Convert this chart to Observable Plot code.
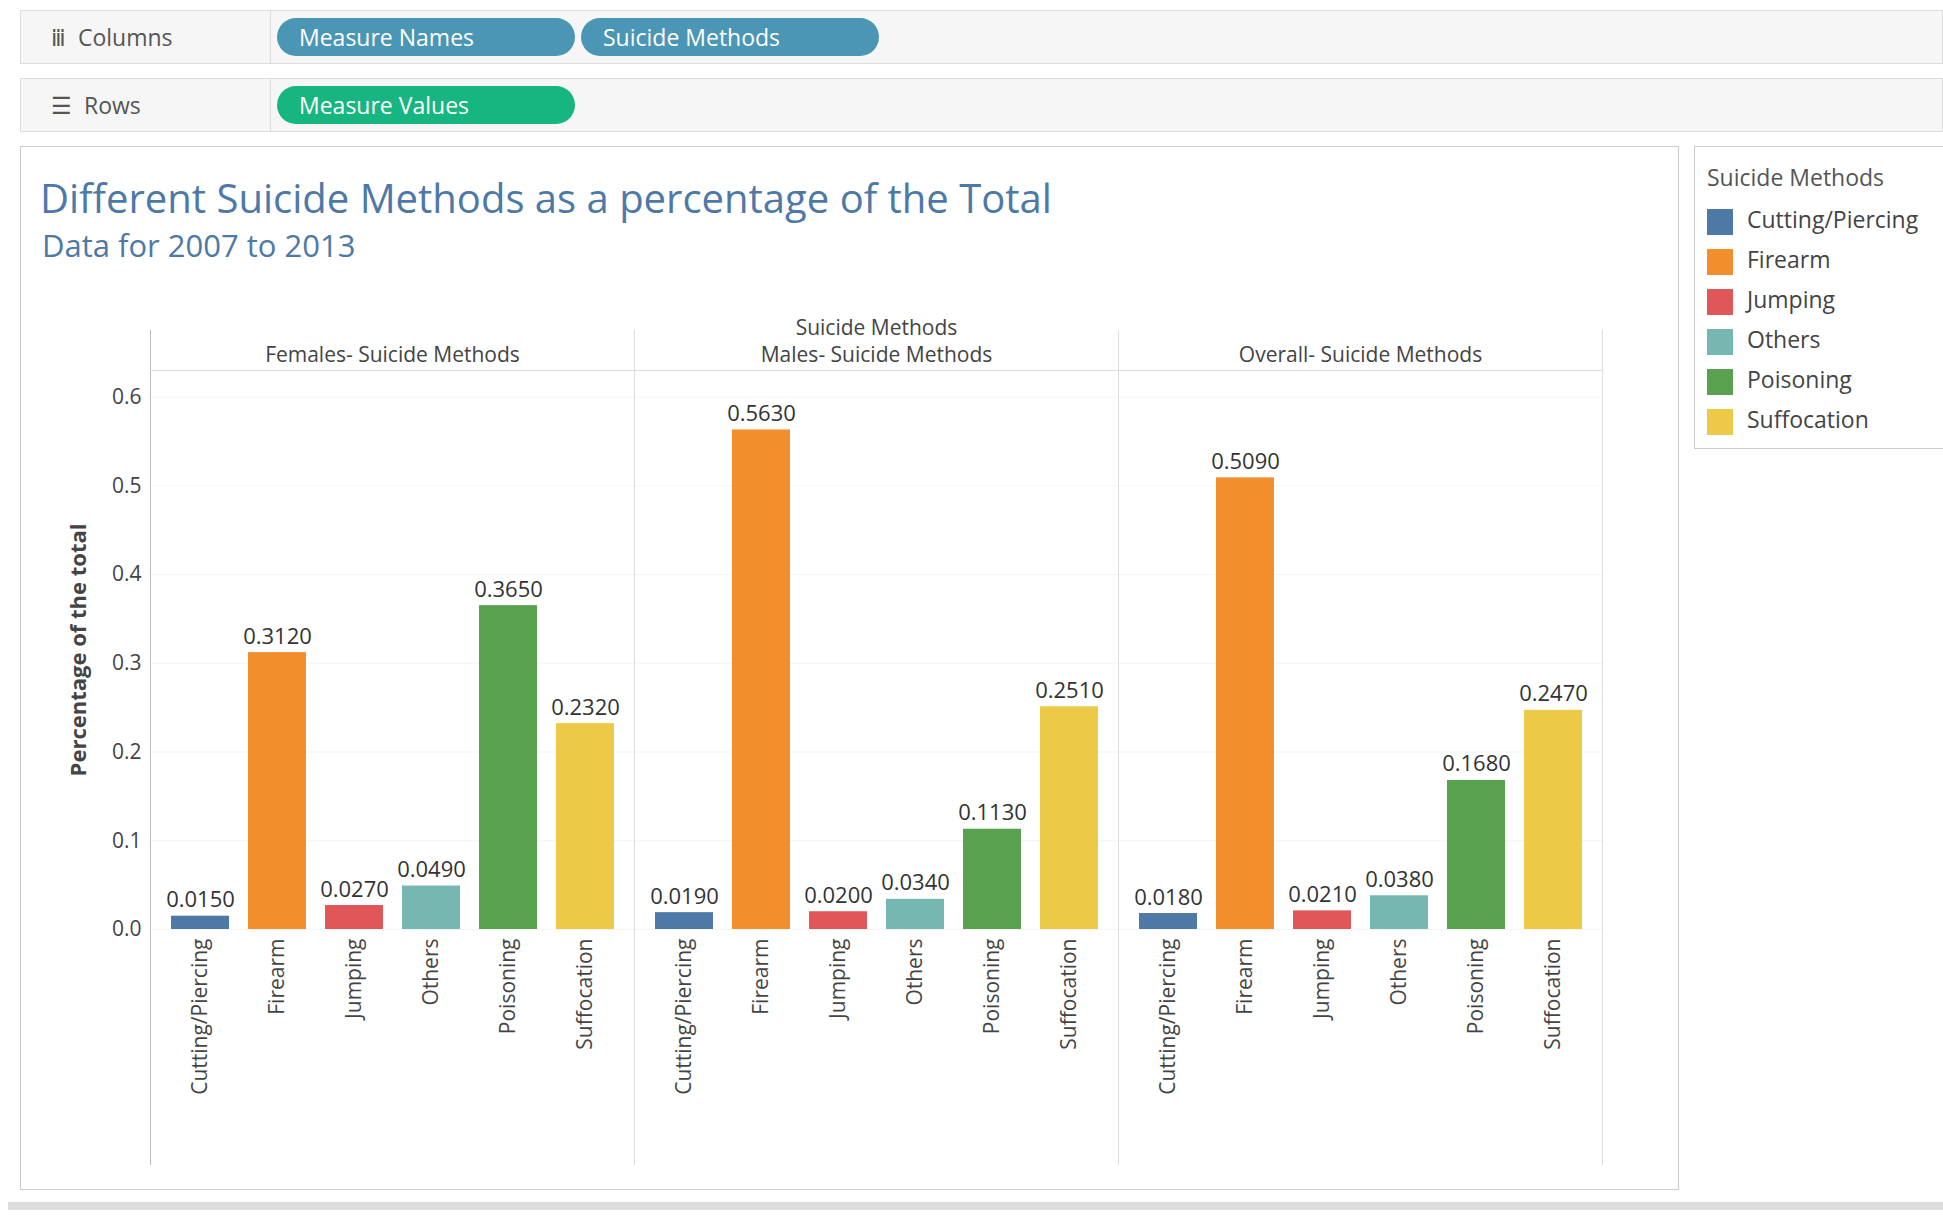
<!DOCTYPE html>
<html><head><meta charset="utf-8">
<script src="https://cdn.jsdelivr.net/npm/d3@7"></script>
<script src="https://cdn.jsdelivr.net/npm/@observablehq/plot@0.6"></script>
<style>
body{margin:0;width:1943px;height:1216px;background:#fff;font-family:"Open Sans",sans-serif;position:relative;overflow:hidden;color:#333}
.shelf{position:absolute;left:20px;right:0;height:52px;background:#f6f6f6;border:1px solid #ddd}
.shelf .lab{position:absolute;left:0;top:0;width:250px;height:52px;line-height:52px;padding-left:30px;font-size:23px;color:#555;border-right:1px solid #ddd;box-sizing:border-box}
.pill{position:absolute;top:7px;height:38px;line-height:38px;border-radius:19px;color:#fff;font-size:23px;padding-left:22px;box-sizing:border-box}
#panel{position:absolute;left:20px;top:146px;width:1659px;height:1044px;border:1px solid #ccc;box-sizing:border-box}
#title{position:absolute;left:40px;top:170px;font-size:40px;color:#4e79a7}
#sub{position:absolute;left:42px;top:224px;font-size:31px;color:#4e79a7}
#chart{position:absolute;left:20px;top:290px}
#legend{position:absolute;left:1694px;top:146px;width:260px;height:303px;border:1px solid #ccc;box-sizing:border-box}
#legend .t{font-size:23px;color:#555;padding:14px 0 0 12px;height:52px;box-sizing:border-box}
#legend .r{height:40px;line-height:40px;font-size:23px;padding-left:12px;color:#444}
#legend .s{display:inline-block;width:26px;height:26px;vertical-align:middle;margin-right:14px}
#foot{position:absolute;left:8px;right:0;top:1202px;height:8px;background:#ddd}
</style></head><body>
<div class="shelf" style="top:10px"><div class="lab">ⅲ&nbsp; Columns</div>
<div class="pill" style="left:256px;width:298px;background:#4b96b5">Measure Names</div>
<div class="pill" style="left:560px;width:298px;background:#4b96b5">Suicide Methods</div></div>
<div class="shelf" style="top:78px"><div class="lab">☰&nbsp; Rows</div>
<div class="pill" style="left:256px;width:298px;background:#17b57f">Measure Values</div></div>
<div id="panel"></div>
<div id="title">Different Suicide Methods as a percentage of the Total</div>
<div id="sub">Data for 2007 to 2013</div>
<div id="chart"></div>
<div id="legend"><div class="t">Suicide Methods</div></div>
<div id="foot"></div>
<script>
const methods = ["Cutting/Piercing","Firearm","Jumping","Others","Poisoning","Suffocation"];
const groups = ["Females- Suicide Methods","Males- Suicide Methods","Overall- Suicide Methods"];
const females = [0.015,0.312,0.027,0.049,0.365,0.232];
const males = [0.019,0.563,0.020,0.034,0.113,0.251];
const overall = [0.018,0.509,0.021,0.038,0.168,0.247];
const colors = ["#4e79a7","#f28e2b","#e15759","#76b7b2","#59a14f","#edc948"];

const series = [females, males, overall];
const data = [];
groups.forEach((g, i) => methods.forEach((m, j) => data.push({group: g, method: m, value: series[i][j]})));

const chart = Plot.plot({
  width: 1640, height: 884,
  marginLeft: 130, marginRight: 58, marginTop: 80, marginBottom: 245,
  style: {fontFamily: "Open Sans", fontSize: "21px", color: "#444", overflow: "visible"},
  fx: {domain: groups, padding: 0, label: "Suicide Methods", axis: "top", tickSize: 0, labelOffset: 50},
  x: {domain: methods, padding: 0.25, tickRotate: -90, tickSize: 0, label: null},
  y: {domain: [0, 0.63], ticks: [0,0.1,0.2,0.3,0.4,0.5,0.6], tickFormat: ".1f", grid: true, tickSize: 0, label: "Percentage of the total", labelAnchor: "center", labelArrow: "none", labelOffset: 80},
  color: {domain: methods, range: colors},
  marks: [
    Plot.frame({anchor: "left", stroke: "#bbb", insetTop: -40, insetBottom: -235}),
    Plot.frame({anchor: "right", stroke: "#ddd", insetTop: -40, insetBottom: -235}),
    Plot.frame({anchor: "top", stroke: "#ddd"}),
    Plot.barY(data, {fx: "group", x: "method", y: "value", fill: "method"}),
    Plot.text(data, {fx: "group", x: "method", y: "value", text: d => d.value.toFixed(4), dy: -16, fill: "#333", fontSize: 22})
  ]
});
chart.querySelectorAll("g[aria-label='y-grid'] line").forEach(l => l.setAttribute("stroke-opacity", 0.06));
chart.querySelectorAll("g[aria-label='y-axis label'] text").forEach(t => { t.style.fontWeight = "bold"; t.style.fontSize = "22px"; });
d3.select("#chart").append(() => chart);

const lg = d3.select("#legend");
methods.forEach((m, i) => {
  const r = lg.append("div").attr("class", "r");
  r.append("span").attr("class", "s").style("background", colors[i]);
  r.append("span").text(m);
});
</script>
</body></html>
